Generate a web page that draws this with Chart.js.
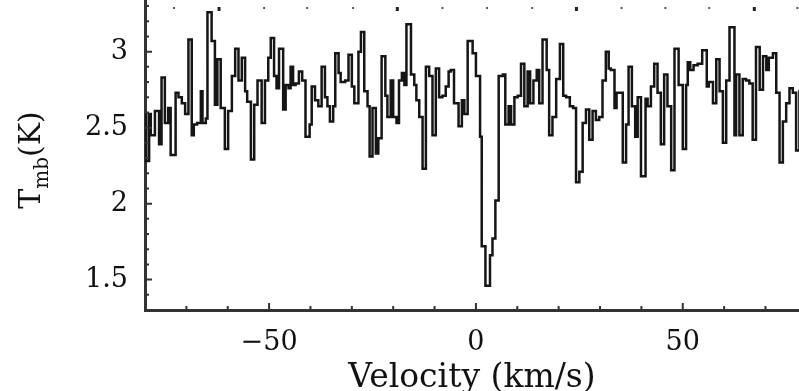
<!DOCTYPE html>
<html>
<head>
<meta charset="utf-8">
<script src="https://cdn.jsdelivr.net/npm/chart.js@4/dist/chart.umd.min.js"></script>
<style>
  html, body { margin: 0; padding: 0; background: #fff; overflow: hidden; }
  #wrap { position: relative; width: 799px; height: 391px; }
</style>
</head>
<body>
<div id="wrap"><canvas id="spec" width="799" height="391"></canvas></div>
<script>
// Channel left edges (km/s) and main-beam brightness temperature (K)
const velocity = [
  -80.1, -79.7, -79.0, -78.6, -77.6, -76.6, -76.0, -75.2, -74.4, -73.8,
  -72.6, -71.9, -71.1, -70.3, -69.5, -68.7, -68.2, -67.4, -66.5, -66.1,
  -65.3, -64.9, -63.9, -63.1, -62.5, -61.7, -60.7, -59.9, -59.0, -58.2,
  -57.4, -56.6, -55.8, -55.3, -54.4, -53.6, -52.8, -51.8, -51.0, -50.2,
  -49.6, -48.8, -48.2, -47.6, -46.6, -46.0, -45.3, -44.8, -44.2, -43.6,
  -42.8, -42.0, -41.2, -40.2, -39.7, -38.9, -38.1, -37.3, -36.5, -35.9,
  -35.3, -34.5, -34.0, -33.2, -32.7, -31.6, -30.8, -30.0, -29.4, -28.4,
  -27.8, -27.0, -26.2, -25.7, -25.0, -24.2, -23.6, -22.8, -21.9, -21.4,
  -20.6, -20.0, -19.2, -18.6, -17.9, -17.3, -16.8, -15.7, -14.9, -14.4,
  -13.7, -12.9, -12.1, -11.3, -10.5, -9.7, -8.9, -8.1, -7.3, -6.6,
  -6.1, -5.3, -4.2, -3.4, -2.8, -2.0, -0.8, 0.0, 1.0, 1.4,
  2.3, 3.4, 4.0, 4.7, 5.5, 6.5, 7.1, 7.9, 8.5, 9.3,
  10.1, 10.9, 11.7, 12.5, 13.1, 13.9, 14.7, 15.3, 16.1, 17.1,
  17.7, 18.5, 19.4, 20.3, 21.1, 21.8, 22.7, 23.5, 24.2, 25.0,
  25.8, 26.6, 27.4, 28.2, 29.0, 29.8, 30.6, 31.4, 32.1, 32.6,
  33.5, 34.0, 35.5, 36.3, 36.9, 37.7, 38.5, 39.1, 39.9, 41.0,
  41.5, 42.3, 43.1, 43.9, 44.7, 45.5, 46.3, 47.2, 48.0, 49.0,
  50.0, 50.8, 51.2, 51.8, 52.6, 53.6, 54.7, 55.8, 56.3, 57.3,
  58.1, 58.9, 59.7, 60.5, 61.3, 62.5, 62.9, 63.7, 64.5, 65.3,
  66.1, 66.9, 67.7, 68.6, 69.4, 70.2, 70.8, 71.8, 72.6, 73.4,
  74.2, 75.0, 75.8, 76.6, 77.4, 78.2
];
const tmb = [
  2.59, 2.28, 2.59, 2.45, 2.61, 2.39, 2.83, 2.53, 2.63, 2.32,
  2.73, 2.70, 2.66, 2.59, 3.08, 2.45, 2.52, 2.53, 2.74, 2.53,
  2.56, 3.26, 3.07, 2.65, 2.95, 2.63, 2.36, 2.61, 2.84, 3.02,
  2.81, 2.96, 2.74, 2.67, 2.29, 2.65, 2.81, 2.53, 2.81, 2.96,
  3.09, 2.84, 2.76, 3.02, 2.62, 2.78, 2.76, 2.90, 2.78, 2.79,
  2.87, 2.81, 2.44, 2.52, 2.77, 2.68, 2.64, 2.90, 2.70, 2.64,
  2.54, 2.64, 2.99, 2.86, 2.80, 2.81, 2.98, 2.77, 2.66, 3.00,
  3.13, 2.74, 2.64, 2.31, 2.63, 2.33, 2.43, 2.97, 2.71, 2.57,
  2.81, 2.57, 2.53, 2.81, 2.86, 2.78, 3.18, 2.85, 2.78, 2.68,
  2.57, 2.23, 2.90, 2.84, 2.45, 2.89, 2.70, 2.71, 2.77, 2.87,
  2.88, 2.66, 2.51, 2.68, 2.59, 3.07, 2.99, 2.84, 2.44, 1.72,
  1.46, 1.66, 1.77, 2.02, 2.84, 2.85, 2.52, 2.64, 2.52, 2.70,
  2.71, 2.92, 2.64, 2.87, 2.66, 2.81, 2.88, 2.66, 3.08, 2.88,
  2.45, 2.57, 2.82, 3.05, 2.71, 2.70, 2.64, 2.63, 2.14, 2.21,
  2.53, 2.62, 2.42, 2.61, 2.55, 2.57, 2.81, 3.00, 2.89, 2.88,
  2.63, 2.73, 2.27, 2.52, 2.90, 2.64, 2.44, 2.70, 2.18, 2.69,
  2.64, 2.77, 2.92, 2.73, 2.39, 2.85, 2.64, 2.22, 3.02, 2.78,
  2.36, 2.78, 2.93, 2.88, 2.91, 2.92, 3.01, 2.77, 2.80, 2.66,
  2.95, 2.74, 2.40, 2.81, 3.16, 2.45, 2.85, 2.45, 2.82, 2.81,
  2.79, 2.42, 3.03, 2.75, 2.97, 2.88, 2.96, 2.99, 2.73, 2.27,
  2.54, 2.66, 2.76, 2.73, 2.35, 2.75
];

// Axis ticks
const xTickValues = [-50, 0, 50];
const xMinorTicks = [-70, -60, -40, -30, -20, -10, 10, 20, 30, 40, 60, 70];
const yTickValues = [1.5, 2, 2.5, 3];
const yMinorTicks = [1.4, 1.6, 1.7, 1.8, 1.9, 2.1, 2.2, 2.3, 2.4, 2.6, 2.7, 2.8, 2.9, 3.1, 3.2, 3.3];
// Secondary (upper) axis marks, given in km/s
const topMinorTicks = [-73.0, -51.2, -40.8, -29.7, -8.1, 2.7, 13.6, 35.2, 45.8, 56.4, 77.7];
const topMajorTicks = [-62.1, -19.0, 24.3, 67.3];

const SERIF = "'DejaVu Serif', 'Liberation Serif', serif";
const INK = '#111';
const AXIS = '#333';

// Inward-pointing tick marks along the frame
const frameTicks = {
  id: 'frameTicks',
  afterDatasetsDraw(chart) {
    const { ctx, chartArea: a, scales: { x, y } } = chart;
    ctx.save();
    ctx.strokeStyle = AXIS;
    ctx.lineWidth = 2;
    ctx.beginPath();
    xMinorTicks.forEach(v => { const p = x.getPixelForValue(v); ctx.moveTo(p, a.bottom); ctx.lineTo(p, a.bottom - 4); });
    xTickValues.forEach(v => { const p = x.getPixelForValue(v); ctx.moveTo(p, a.bottom); ctx.lineTo(p, a.bottom - 7); });
    yMinorTicks.forEach(v => { const p = y.getPixelForValue(v); ctx.moveTo(a.left, p); ctx.lineTo(a.left + 4, p); });
    yTickValues.forEach(v => { const p = y.getPixelForValue(v); ctx.moveTo(a.left, p); ctx.lineTo(a.left + 7, p); });
    ctx.stroke();
    ctx.fillStyle = '#555';
    topMinorTicks.forEach(v => { const p = x.getPixelForValue(v); ctx.fillRect(p - 1, 7, 2, 2); });
    ctx.fillStyle = '#222';
    topMajorTicks.forEach(v => { const p = x.getPixelForValue(v); ctx.fillRect(p - 1.5, 7, 3, 4); });
    ctx.restore();
  }
};

// Rotated y title with subscript: T_mb(K)
const yTitle = {
  id: 'yTitle',
  afterDraw(chart) {
    const { ctx } = chart;
    const big = '30px ' + SERIF, small = '20px ' + SERIF;
    ctx.save();
    ctx.fillStyle = INK;
    ctx.textBaseline = 'alphabetic';
    ctx.textAlign = 'left';
    ctx.font = big; const wT = ctx.measureText('T').width; const wK = ctx.measureText('(K)').width;
    ctx.font = small; const wS = ctx.measureText('mb').width;
    const total = wT + wS + wK;
    ctx.translate(40, 160);
    ctx.rotate(-Math.PI / 2);
    let cx = -total / 2;
    ctx.font = big; ctx.fillText('T', cx, 0); cx += wT;
    ctx.font = small; ctx.fillText('mb', cx, 8); cx += wS;
    ctx.font = big; ctx.fillText('(K)', cx, 0);
    ctx.restore();
  }
};

new Chart(document.getElementById('spec'), {
  type: 'line',
  data: {
    datasets: [{
      data: velocity.map((v, i) => ({ x: v, y: tmb[i] })),
      stepped: 'before',
      borderColor: '#151515',
      borderWidth: 2.5,
      pointRadius: 0,
      fill: false
    }]
  },
  options: {
    responsive: false,
    animation: false,
    devicePixelRatio: 1,
    layout: { padding: 0 },
    plugins: { legend: { display: false }, tooltip: { enabled: false } },
    scales: {
      x: {
        type: 'linear',
        min: -80,
        max: 78.1,
        afterFit(s) { s.height = 81; s.paddingLeft = 0; s.paddingRight = 0; },
        afterBuildTicks(s) { s.ticks = xTickValues.map(v => ({ value: v })); },
        grid: { display: false, drawTicks: false },
        border: { display: true, color: AXIS, width: 3 },
        ticks: {
          padding: 17,
          maxRotation: 0,
          color: INK,
          font: { family: SERIF, size: 27 },
          callback: v => (v < 0 ? '\u2212' + Math.abs(v) : String(v))
        },
        title: {
          display: true,
          text: 'Velocity (km/s)',
          color: INK,
          padding: 0,
          font: { family: SERIF, size: 33, lineHeight: 0.75 }
        }
      },
      y: {
        type: 'linear',
        min: 1.3,
        max: 3.34,
        afterFit(s) { s.width = 145; s.paddingTop = 0; s.paddingBottom = 0; },
        afterBuildTicks(s) { s.ticks = yTickValues.map(v => ({ value: v })); },
        grid: { display: false, drawTicks: false },
        border: { display: true, color: AXIS, width: 3 },
        ticks: {
          padding: 17,
          color: INK,
          font: { family: SERIF, size: 27 },
          callback: v => String(v)
        }
      }
    }
  },
  plugins: [frameTicks, yTitle]
});
</script>
</body>
</html>
